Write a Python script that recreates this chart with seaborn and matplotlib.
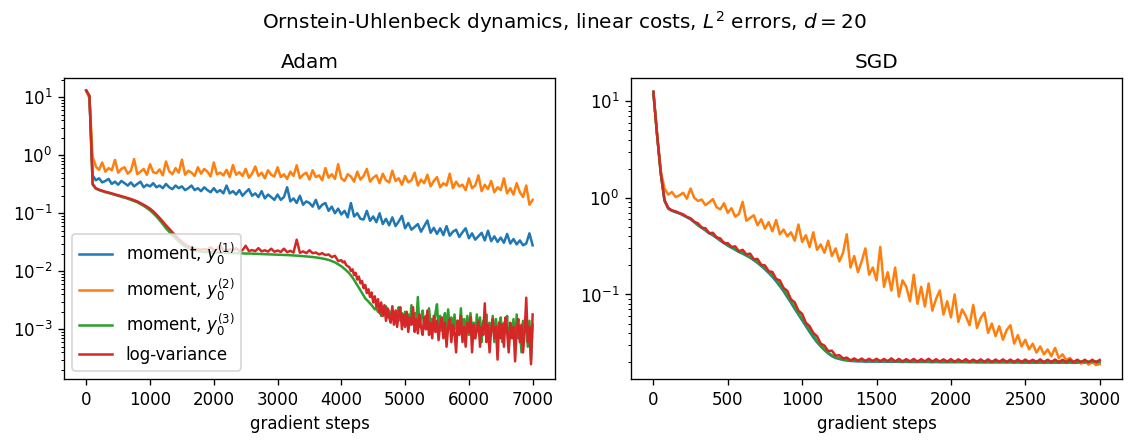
import numpy as np
import matplotlib
matplotlib.use("Agg")
import matplotlib.pyplot as plt
import seaborn as sns

# ---------------------------------------------------------------------------
# L2 errors of the control during training (Ornstein-Uhlenbeck, linear costs)
# ---------------------------------------------------------------------------

# Adam: the moment losses y0^(1), y0^(2) are recorded every 50 steps;
# y0^(3) and log-variance every 50 steps up to 4000, then every 25 steps.
adam_steps = np.arange(0, 7001, 50)
adam_steps_dense = np.concatenate([np.arange(0, 4000, 50), np.arange(4000, 7001, 25)])

adam_moment_1 = [
    13, 10, 0.45, 0.37, 0.40, 0.34, 0.36, 0.39, 0.32, 0.35,
    0.31, 0.36, 0.33, 0.30, 0.34, 0.29, 0.32, 0.35, 0.28, 0.31,
    0.29, 0.33, 0.28, 0.30, 0.27, 0.32, 0.28, 0.26, 0.30, 0.27,
    0.29, 0.25, 0.27, 0.30, 0.25, 0.27, 0.24, 0.28, 0.25, 0.23,
    0.27, 0.23, 0.25, 0.22, 0.30, 0.22, 0.24, 0.21, 0.25, 0.20,
    0.23, 0.26, 0.20, 0.22, 0.19, 0.24, 0.18, 0.21, 0.19, 0.17,
    0.21, 0.17, 0.19, 0.28, 0.16, 0.18, 0.15, 0.20, 0.14, 0.16,
    0.15, 0.13, 0.17, 0.12, 0.14, 0.15, 0.11, 0.13, 0.10, 0.12,
    0.095, 0.11, 0.085, 0.15, 0.088, 0.10, 0.080, 0.078, 0.11, 0.074,
    0.088, 0.070, 0.10, 0.065, 0.080, 0.062, 0.085, 0.060, 0.072, 0.090,
    0.055, 0.068, 0.052, 0.058, 0.065, 0.048, 0.060, 0.075, 0.046, 0.056,
    0.044, 0.055, 0.042, 0.060, 0.041, 0.048, 0.052, 0.039, 0.047, 0.055,
    0.037, 0.045, 0.035, 0.040, 0.046, 0.034, 0.050, 0.033, 0.040, 0.032,
    0.038, 0.031, 0.044, 0.030, 0.036, 0.029, 0.034, 0.028, 0.030, 0.045,
    0.028,
]

adam_moment_2 = [
    13, 9.5, 0.95, 0.64, 0.56, 0.75, 0.52, 0.60, 0.55, 0.83,
    0.50, 0.58, 0.62, 0.48, 0.54, 0.86, 0.47, 0.52, 0.58, 0.46,
    0.70, 0.51, 0.49, 0.57, 0.45, 0.78, 0.53, 0.47, 0.60, 0.50,
    0.84, 0.46, 0.54, 0.50, 0.44, 0.62, 0.48, 0.58, 0.52, 0.43,
    0.75, 0.47, 0.50, 0.45, 0.56, 0.42, 0.68, 0.46, 0.51, 0.44,
    0.58, 0.41, 0.48, 0.64, 0.44, 0.50, 0.40, 0.55, 0.46, 0.43,
    0.62, 0.42, 0.47, 0.39, 0.52, 0.44, 0.67, 0.40, 0.46, 0.50,
    0.38, 0.55, 0.42, 0.45, 0.37, 0.60, 0.41, 0.47, 0.39, 0.70,
    0.40, 0.36, 0.47, 0.43, 0.35, 0.52, 0.38, 0.44, 0.58, 0.35,
    0.41, 0.45, 0.33, 0.48, 0.37, 0.34, 0.54, 0.36, 0.40, 0.31,
    0.44, 0.34, 0.37, 0.50, 0.30, 0.38, 0.33, 0.46, 0.29, 0.36,
    0.42, 0.28, 0.33, 0.30, 0.48, 0.27, 0.35, 0.29, 0.31, 0.25,
    0.40, 0.27, 0.30, 0.45, 0.24, 0.31, 0.26, 0.36, 0.23, 0.28,
    0.25, 0.40, 0.22, 0.27, 0.21, 0.33, 0.23, 0.19, 0.30, 0.14,
    0.17,
]

adam_moment_3 = [
    # 0 ... 3950, every 50 steps
    13, 10.5, 0.31, 0.265, 0.25, 0.24, 0.23, 0.223, 0.215, 0.207,
    0.200, 0.193, 0.185, 0.178, 0.170, 0.162, 0.154, 0.144, 0.134, 0.123,
    0.112, 0.100, 0.088, 0.076, 0.065, 0.055, 0.048, 0.042, 0.037, 0.033,
    0.029, 0.027, 0.025, 0.0237, 0.0228, 0.0222, 0.0218, 0.0215, 0.0213, 0.0212,
    0.0210, 0.0210, 0.0209, 0.0208, 0.0207, 0.0206, 0.0205, 0.0205, 0.0204, 0.0203,
    0.0202, 0.0202, 0.0201, 0.0200, 0.0199, 0.0198, 0.0197, 0.0196, 0.0195, 0.0194,
    0.0193, 0.0192, 0.0191, 0.0190, 0.0189, 0.0187, 0.0186, 0.0184, 0.0182, 0.0180,
    0.0178, 0.0176, 0.0173, 0.0170, 0.0166, 0.0162, 0.0157, 0.0150, 0.0142, 0.0132,
    # 4000 ... 7000, every 25 steps
    0.0122, 0.0116, 0.0110, 0.0104, 0.0098, 0.0092, 0.0085, 0.0078, 0.0071, 0.0064,
    0.0058, 0.0052, 0.0047, 0.0042, 0.0038, 0.0034, 0.0032, 0.0030, 0.0028, 0.0026,
    0.0024, 0.0022, 0.0023, 0.0020, 0.0021, 0.0017, 0.0023, 0.0018, 0.0025, 0.0016,
    0.0021, 0.0015, 0.0022, 0.0016, 0.0013, 0.0020, 0.0024, 0.0014, 0.0019, 0.0013,
    0.0020, 0.0014, 0.0018, 0.0012, 0.0026, 0.0013, 0.0019, 0.0012, 0.0036, 0.0011,
    0.0016, 0.0021, 0.0011, 0.0017, 0.0010, 0.0023, 0.0012, 0.0015, 0.0011, 0.0019,
    0.0027, 0.0010, 0.0017, 0.00095, 0.0014, 0.0019, 0.0009, 0.0022, 0.0011, 0.0016,
    0.0008, 0.0018, 0.0010, 0.0014, 0.0009, 0.0023, 0.0008, 0.0015, 0.0010, 0.0017,
    0.0008, 0.0019, 0.0010, 0.0013, 0.0007, 0.0018, 0.0009, 0.0016, 0.0006, 0.0014,
    0.0011, 0.0018, 0.0007, 0.0013, 0.0009, 0.0017, 0.0006, 0.0015, 0.0008, 0.0012,
    0.0016, 0.0006, 0.0013, 0.0009, 0.0017, 0.0005, 0.0012, 0.0008, 0.0015, 0.0005,
    0.0018, 0.0007, 0.0011, 0.0004, 0.0014, 0.0009, 0.0012, 0.0005, 0.0014, 0.0003,
    0.0012,
]

adam_log_variance = [
    # 0 ... 3950, every 50 steps
    13, 10.5, 0.32, 0.27, 0.255, 0.245, 0.235, 0.228, 0.22, 0.212,
    0.205, 0.198, 0.19, 0.183, 0.176, 0.168, 0.16, 0.15, 0.14, 0.13,
    0.12, 0.108, 0.095, 0.083, 0.072, 0.062, 0.054, 0.047, 0.041, 0.036,
    0.032, 0.029, 0.027, 0.0255, 0.0245, 0.024, 0.0235, 0.024, 0.0235, 0.026,
    0.023, 0.0235, 0.028, 0.023, 0.0228, 0.024, 0.0226, 0.025, 0.0225, 0.023,
    0.0275, 0.0223, 0.0232, 0.0222, 0.025, 0.022, 0.023, 0.0218, 0.0245, 0.0217,
    0.0228, 0.0215, 0.0245, 0.0213, 0.0225, 0.021, 0.035, 0.0208, 0.022, 0.0205,
    0.023, 0.0205, 0.021, 0.0195, 0.0205, 0.019, 0.0195, 0.0175, 0.0185, 0.015,
    # 4000 ... 7000, every 25 steps
    0.0155, 0.0142, 0.0148, 0.0128, 0.0122, 0.0118, 0.0101, 0.0108, 0.0086, 0.0094,
    0.0072, 0.0081, 0.0062, 0.0068, 0.0051, 0.0058, 0.0042, 0.0049, 0.0036, 0.0043,
    0.0029, 0.0037, 0.0024, 0.0033, 0.0019, 0.0029, 0.0017, 0.0026, 0.0014, 0.0023,
    0.0016, 0.0013, 0.0025, 0.0012, 0.0021, 0.0011, 0.0019, 0.0024, 0.0010, 0.0018,
    0.0011, 0.0020, 0.0009, 0.0016, 0.0012, 0.0024, 0.0009, 0.0015, 0.00085, 0.0018,
    0.0011, 0.0008, 0.0016, 0.0010, 0.0021, 0.0008, 0.0013, 0.0007, 0.0017, 0.0009,
    0.0014, 0.00065, 0.0012, 0.0016, 0.0007, 0.0013, 0.0005, 0.0011, 0.0015, 0.0006,
    0.0012, 0.0009, 0.0004, 0.0014, 0.0008, 0.0017, 0.0006, 0.0011, 0.0005, 0.0013,
    0.0009, 0.0016, 0.0004, 0.0012, 0.0007, 0.0010, 0.0014, 0.0005, 0.0011, 0.0008,
    0.0028, 0.0006, 0.0012, 0.0004, 0.0010, 0.0015, 0.0007, 0.0011, 0.0003, 0.0013,
    0.0007, 0.0012, 0.0005, 0.0016, 0.0009, 0.0004, 0.0013, 0.0007, 0.0011, 0.00028,
    0.0010, 0.0015, 0.0006, 0.0012, 0.0004, 0.0009, 0.0035, 0.0006, 0.0011, 0.00025,
    0.0018,
]

# SGD: recorded every 25 gradient steps, 0 ... 3000
sgd_steps = np.arange(0, 3001, 25)

sgd_moment_1 = [
    12.5, 4.5, 1.78, 0.93, 0.77, 0.735, 0.71, 0.69, 0.66, 0.63,
    0.60, 0.56, 0.52, 0.49, 0.46, 0.43, 0.41, 0.385, 0.36, 0.34,
    0.32, 0.305, 0.29, 0.275, 0.265, 0.252, 0.24, 0.226, 0.212, 0.197,
    0.182, 0.167, 0.152, 0.137, 0.122, 0.108, 0.094, 0.082, 0.071, 0.062,
    0.054, 0.047, 0.041, 0.036, 0.032, 0.029, 0.0265, 0.0245, 0.023, 0.022,
    0.0215, 0.021, 0.0207, 0.0205, 0.0204, 0.0203, 0.0203, 0.0202, 0.0202, 0.0202,
    0.0202, 0.0201, 0.0202, 0.0201, 0.0201, 0.0201, 0.0201, 0.0200, 0.0201, 0.0200,
    0.0200, 0.0200, 0.0200, 0.0200, 0.0200, 0.0199, 0.0200, 0.0199, 0.0199, 0.0199,
    0.0199, 0.0199, 0.0199, 0.0199, 0.0199, 0.0198, 0.0199, 0.0198, 0.0198, 0.0198,
    0.0198, 0.0198, 0.0198, 0.0198, 0.0198, 0.0198, 0.0198, 0.0197, 0.0198, 0.0197,
    0.0197, 0.0197, 0.0197, 0.0197, 0.0197, 0.0197, 0.0197, 0.0197, 0.0197, 0.0197,
    0.0197, 0.0197, 0.0197, 0.0196, 0.0197, 0.0196, 0.0197, 0.0196, 0.0196, 0.0196,
    0.0196,
]

sgd_moment_2 = [
    12.5, 4.6, 1.9, 1.25, 1.08, 1.15, 1.02, 1.06, 1.13, 0.98,
    1.25, 1.0, 0.93, 0.96, 0.84, 0.90, 0.97, 0.80, 0.76, 0.88,
    0.70, 0.78, 0.64, 0.68, 0.91, 0.58, 0.62, 0.66, 0.52, 0.60,
    0.48, 0.56, 0.45, 0.59, 0.42, 0.47, 0.40, 0.44, 0.36, 0.53,
    0.35, 0.41, 0.31, 0.44, 0.29, 0.33, 0.27, 0.36, 0.25, 0.30,
    0.22, 0.27, 0.42, 0.19, 0.25, 0.17, 0.22, 0.30, 0.16, 0.19,
    0.14, 0.31, 0.12, 0.17, 0.11, 0.19, 0.095, 0.14, 0.12, 0.085,
    0.16, 0.080, 0.12, 0.075, 0.13, 0.068, 0.090, 0.11, 0.062, 0.085,
    0.058, 0.10, 0.052, 0.070, 0.060, 0.048, 0.078, 0.045, 0.057, 0.065,
    0.040, 0.050, 0.037, 0.047, 0.034, 0.043, 0.048, 0.031, 0.038, 0.029,
    0.034, 0.027, 0.031, 0.025, 0.029, 0.024, 0.027, 0.023, 0.028, 0.022,
    0.024, 0.021, 0.022, 0.0198, 0.021, 0.0192, 0.0205, 0.0188, 0.020, 0.0186,
    0.019,
]

sgd_moment_3 = [
    12.5, 4.5, 1.79, 0.94, 0.78, 0.74, 0.715, 0.695, 0.665, 0.635,
    0.605, 0.565, 0.525, 0.495, 0.465, 0.435, 0.415, 0.39, 0.365, 0.345,
    0.325, 0.31, 0.295, 0.28, 0.27, 0.256, 0.244, 0.23, 0.216, 0.201,
    0.187, 0.172, 0.157, 0.142, 0.127, 0.112, 0.098, 0.085, 0.074, 0.064,
    0.056, 0.049, 0.043, 0.038, 0.033, 0.0298, 0.027, 0.025, 0.0235, 0.0224,
    0.0218, 0.0213, 0.0210, 0.0208, 0.0207, 0.0206, 0.0205, 0.0205, 0.0205, 0.0204,
    0.0204, 0.0204, 0.0204, 0.0204, 0.0204, 0.0203, 0.0204, 0.0203, 0.0203, 0.0203,
    0.0203, 0.0203, 0.0203, 0.0203, 0.0203, 0.0203, 0.0203, 0.0203, 0.0203, 0.0202,
    0.0203, 0.0202, 0.0202, 0.0202, 0.0202, 0.0202, 0.0202, 0.0202, 0.0202, 0.0202,
    0.0202, 0.0202, 0.0202, 0.0202, 0.0202, 0.0202, 0.0202, 0.0202, 0.0202, 0.0202,
    0.0202, 0.0202, 0.0202, 0.0202, 0.0202, 0.0202, 0.0202, 0.0202, 0.0202, 0.0202,
    0.0202, 0.0202, 0.0202, 0.0202, 0.0202, 0.0202, 0.0202, 0.0202, 0.0202, 0.0202,
    0.0202,
]

sgd_log_variance = [
    12.5, 4.5, 1.8, 0.95, 0.79, 0.74, 0.725, 0.695, 0.675, 0.635,
    0.615, 0.565, 0.545, 0.49, 0.485, 0.43, 0.435, 0.39, 0.38, 0.34,
    0.34, 0.31, 0.315, 0.28, 0.29, 0.26, 0.265, 0.232, 0.233, 0.203,
    0.20, 0.174, 0.171, 0.145, 0.14, 0.117, 0.109, 0.089, 0.083, 0.068,
    0.063, 0.051, 0.047, 0.040, 0.037, 0.031, 0.0295, 0.026, 0.0262, 0.0233,
    0.0235, 0.0218, 0.0222, 0.0208, 0.0218, 0.0206, 0.0217, 0.0205, 0.0216, 0.0205,
    0.0216, 0.0204, 0.0215, 0.0204, 0.0218, 0.0203, 0.0215, 0.0203, 0.0214, 0.0203,
    0.0215, 0.0202, 0.0214, 0.0203, 0.0216, 0.0202, 0.0214, 0.0202, 0.0213, 0.0202,
    0.0214, 0.0201, 0.0213, 0.0202, 0.0214, 0.0201, 0.0212, 0.0201, 0.0213, 0.0201,
    0.0213, 0.0200, 0.0212, 0.0201, 0.0213, 0.0200, 0.0212, 0.0200, 0.0212, 0.0200,
    0.0212, 0.0200, 0.0211, 0.0200, 0.0213, 0.0199, 0.0211, 0.0200, 0.0212, 0.0199,
    0.0211, 0.0199, 0.0212, 0.0199, 0.0211, 0.0199, 0.0211, 0.0198, 0.0211, 0.0199,
    0.0210,
]

series_labels = [
    r"moment, $y_0^{(1)}$",
    r"moment, $y_0^{(2)}$",
    r"moment, $y_0^{(3)}$",
    "log-variance",
]
series_colors = ["#1f77b4", "#ff7f0e", "#2ca02c", "#d62728"]

fig, (ax_adam, ax_sgd) = plt.subplots(1, 2, figsize=(9.4, 3.675), dpi=120)
fig.subplots_adjust(left=0.0567, right=0.9947, bottom=0.1406, top=0.822, wspace=0.155)

adam_series = [
    (adam_steps, adam_moment_1),
    (adam_steps, adam_moment_2),
    (adam_steps_dense, adam_moment_3),
    (adam_steps_dense, adam_log_variance),
]
for (steps, values), label, color in zip(adam_series, series_labels, series_colors):
    sns.lineplot(x=steps, y=values, ax=ax_adam, color=color, label=label,
                 linewidth=1.5)

sgd_series = [sgd_moment_1, sgd_moment_2, sgd_moment_3, sgd_log_variance]
for values, color in zip(sgd_series, series_colors):
    sns.lineplot(x=sgd_steps, y=values, ax=ax_sgd, color=color, legend=False,
                 linewidth=1.5)

for ax, title in [(ax_adam, "Adam"), (ax_sgd, "SGD")]:
    ax.set_yscale("log")
    ax.set_title(title)
    ax.set_xlabel("gradient steps")
    ax.set_ylabel("")

ax_adam.set_ylim(1.39e-4, 21.0)
ax_sgd.set_ylim(0.01334, 17.2)

ax_adam.legend(loc="lower left")

fig.suptitle(r"Ornstein-Uhlenbeck dynamics, linear costs, $L^2$ errors, $d = 20$")

fig.savefig("out.png", dpi=120)
